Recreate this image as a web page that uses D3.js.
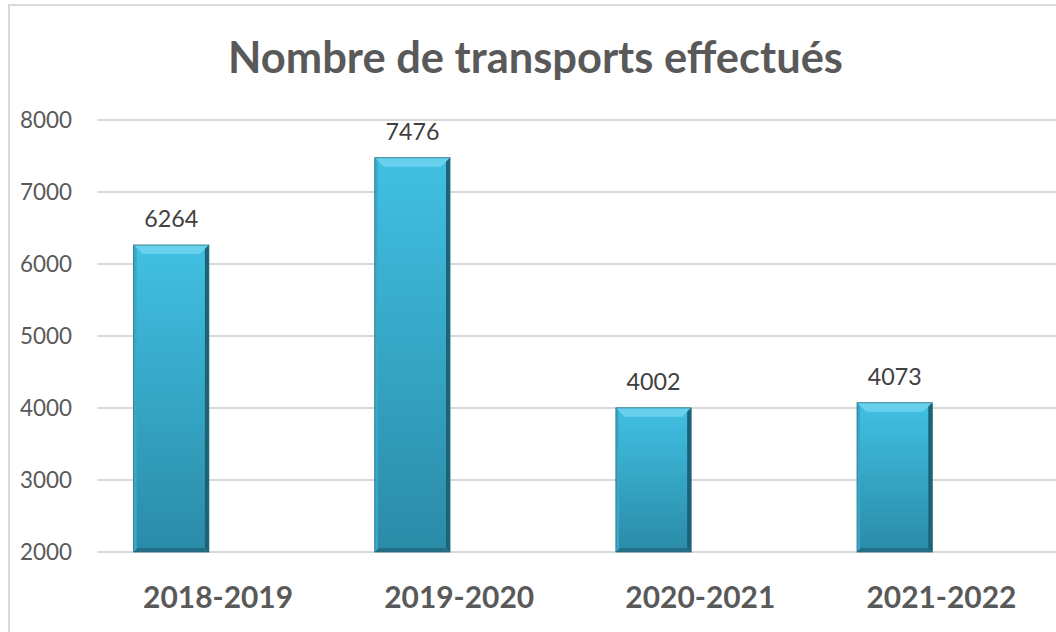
<!DOCTYPE html>
<html><head><meta charset="utf-8">
<script src="https://cdn.jsdelivr.net/npm/d3@7"></script>
<style>body{margin:0;background:#fff}svg{display:block}</style>
</head><body>
<script>
const categories = ["2018-2019","2019-2020","2020-2021","2021-2022"];
const values = [6264, 7476, 4002, 4073];
const yTicks = [2000,3000,4000,5000,6000,7000,8000];
const title = "Nombre de transports effectués";

const W = 1056, H = 632;
const svg = d3.select("body").append("svg").attr("width", W).attr("height", H);
const defs = svg.append("defs");
const g1 = defs.append("linearGradient").attr("id","barg").attr("x1",0).attr("y1",0).attr("x2",0).attr("y2",1);
g1.append("stop").attr("offset","0%").attr("stop-color","#41c0e3");
g1.append("stop").attr("offset","100%").attr("stop-color","#2a8ba7");

// frame
svg.append("rect").attr("x",9).attr("y",5).attr("width",1060).attr("height",660)
  .attr("fill","none").attr("stroke","#d9d9d9").attr("stroke-width",2);

const x = d3.scaleBand().domain(categories).range([97.5, 1062]).paddingInner(0).paddingOuter(0);
const y = d3.scaleLinear().domain([2000, 8000]).range([552, 120]);

function fit(sel, target){
  const n = sel.node(); let fs = parseFloat(sel.attr("font-size"));
  const w = n.getComputedTextLength();
  sel.attr("font-size", fs * target / w);
}

// gridlines
svg.append("g").selectAll("line").data(yTicks).join("line")
  .attr("x1",97.5).attr("x2",W).attr("y1",d=>y(d)).attr("y2",d=>y(d))
  .attr("stroke","#d9d9d9").attr("stroke-width",2);

// y axis labels
const yl = svg.append("g").selectAll("text").data(yTicks).join("text")
  .attr("x",20).attr("y",d=>y(d)+8).attr("font-family","Lato, 'Open Sans', sans-serif")
  .attr("font-size",22).attr("fill","#595959").text(d=>d);
yl.each(function(){ fit(d3.select(this), 52); });

// bars
const bw = x.bandwidth();
const bars = svg.append("g").selectAll("g").data(categories).join("g");
bars.each(function(c,i){
  const gg = d3.select(this);
  const x0 = x(c) + bw*0.15, wB = bw*0.312;
  const y0 = y(values[i]), y1 = y(2000), h = y1 - y0;
  gg.append("rect").attr("x",x0).attr("y",y0).attr("width",wB).attr("height",h).attr("fill","url(#barg)");
  const b = 9;
  // top bevel
  gg.append("polygon").attr("points",[[x0,y0],[x0+wB,y0],[x0+wB-b,y0+b],[x0+b,y0+b]].join(" "))
    .attr("fill","#6fd3ef").attr("opacity",0.85);
  // left bevel
  gg.append("polygon").attr("points",[[x0,y0],[x0+3,y0+3],[x0+3,y1-3],[x0,y1]].join(" "))
    .attr("fill","#3aa9c8");
  // right bevel
  gg.append("polygon").attr("points",[[x0+wB,y0],[x0+wB-4,y0+4],[x0+wB-4,y1-4],[x0+wB,y1]].join(" "))
    .attr("fill","#1d6275");
  // bottom bevel
  gg.append("polygon").attr("points",[[x0,y1],[x0+4,y1-4],[x0+wB-4,y1-4],[x0+wB,y1]].join(" "))
    .attr("fill","#246f85");
  gg.append("rect").attr("x",x0).attr("y",y0).attr("width",wB).attr("height",h)
    .attr("fill","none").attr("stroke","#226d82").attr("stroke-width",0.8);
  // value label
  const t = gg.append("text").attr("x",x0+wB/2).attr("y",y0-18).attr("text-anchor","middle")
    .attr("font-family","Lato, 'Open Sans', sans-serif").attr("font-size",24).attr("fill","#404040").text(values[i]);
  fit(t, 54);
  // category label
  const ct = gg.append("text").attr("x",x(c)+bw/2).attr("y",608).attr("text-anchor","middle")
    .attr("font-family","Lato, 'Open Sans', sans-serif").attr("font-weight","bold")
    .attr("font-size",28).attr("fill","#595959").text(c);
  fit(ct, 150);
});

// title
const tt = svg.append("text").attr("x",535.5).attr("y",73).attr("text-anchor","middle")
  .attr("font-family","Lato, 'Open Sans', sans-serif").attr("font-weight","bold")
  .attr("font-size",40).attr("fill","#595959").text(title);
fit(tt, 615);
</script>
</body></html>
